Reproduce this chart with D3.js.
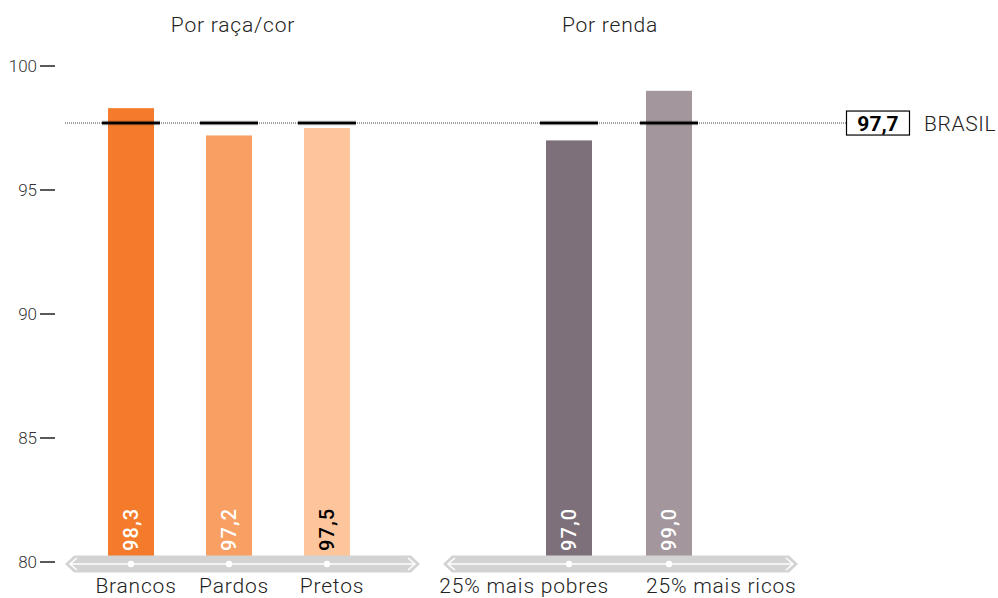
<!DOCTYPE html>
<html>
<head>
<meta charset="utf-8">
<script src="https://cdn.jsdelivr.net/npm/d3@7"></script>
<style>
	body { margin: 0; background: #fff; }
	svg { display: block; font-family: Roboto, "DejaVu Sans", sans-serif; }
</style>
</head>
<body>
<svg id="chart" width="998" height="598"></svg>
<script>
const raceCategories = ["Brancos", "Pardos", "Pretos"];
const raceValues = [98.3, 97.2, 97.5];
const raceColors = ["#f47b2b", "#f8a063", "#fdc59c"];
const raceLabelColors = ["#fff", "#fff", "#000"];

const incomeCategories = ["25% mais pobres", "25% mais ricos"];
const incomeValues = [97.0, 99.0];
const incomeColors = ["#7d707a", "#a3979d"];
const incomeLabelColors = ["#fff", "#fff"];

const brasil = 97.7;
const yTicks = [80, 85, 90, 95, 100];
const groupTitles = ["Por raça/cor", "Por renda"];

const svg = d3.select("#chart");
const y = d3.scaleLinear().domain([80, 100]).range([562, 66]);
const fmt = v => d3.format(".1f")(v).replace(".", ",");

// y axis
const yAxis = svg.append("g").attr("class", "y-axis");
yTicks.forEach(t => {
	yAxis.append("text")
		.attr("x", 37).attr("y", y(t)).attr("dy", "0.35em")
		.attr("text-anchor", "end")
		.attr("font-size", 17).attr("font-weight", 300).attr("fill", "#333")
		.text(t);
	yAxis.append("line")
		.attr("x1", 40).attr("x2", 55)
		.attr("y1", y(t)).attr("y2", y(t))
		.attr("stroke", "#222").attr("stroke-width", 1.5);
});

const groups = [
	{ title: groupTitles[0], cats: raceCategories, vals: raceValues, colors: raceColors, labels: raceLabelColors,
		x: d3.scalePoint().domain(raceCategories).range([131, 327]), band: [65, 420], titleX: 233 },
	{ title: groupTitles[1], cats: incomeCategories, vals: incomeValues, colors: incomeColors, labels: incomeLabelColors,
		x: d3.scalePoint().domain(incomeCategories).range([569, 669]), band: [443, 798], titleX: 610 }
];

const barW = 46;
const markW = 58;

// bars
groups.forEach(g => {
	svg.append("g").selectAll("rect.bar")
		.data(g.cats)
		.join("rect")
		.attr("class", "bar")
		.attr("x", d => g.x(d) - barW / 2)
		.attr("width", barW)
		.attr("y", (d, i) => y(g.vals[i]))
		.attr("height", (d, i) => y(80) - y(g.vals[i]))
		.attr("fill", (d, i) => g.colors[i]);
});

// brasil reference line
svg.append("line")
	.attr("x1", 65).attr("x2", 846)
	.attr("y1", y(brasil)).attr("y2", y(brasil))
	.attr("stroke", "#444").attr("stroke-width", 1)
	.attr("stroke-dasharray", "1,1");

groups.forEach(g => {
	const marks = svg.append("g");
	marks.selectAll("line.halo")
		.data(g.cats)
		.join("line")
		.attr("class", "halo")
		.attr("x1", d => g.x(d) - markW / 2)
		.attr("x2", d => g.x(d) + markW / 2)
		.attr("y1", y(brasil)).attr("y2", y(brasil))
		.attr("stroke", "#000").attr("stroke-opacity", 0.3).attr("stroke-width", 4.5);
	marks.selectAll("line.mark")
		.data(g.cats)
		.join("line")
		.attr("class", "mark")
		.attr("x1", d => g.x(d) - markW / 2)
		.attr("x2", d => g.x(d) + markW / 2)
		.attr("y1", y(brasil)).attr("y2", y(brasil))
		.attr("stroke", "#000").attr("stroke-width", 2.5);
});

svg.append("rect")
	.attr("x", 846.5).attr("y", y(brasil) - 12)
	.attr("width", 63).attr("height", 24)
	.attr("fill", "#fff").attr("stroke", "#000").attr("stroke-width", 1.2);
svg.append("text")
	.attr("x", 878).attr("y", y(brasil)).attr("dy", "0.36em")
	.attr("text-anchor", "middle")
	.attr("font-size", 21).attr("font-weight", 700).attr("fill", "#000")
	.text(fmt(brasil));
svg.append("text")
	.attr("x", 924).attr("y", y(brasil)).attr("dy", "0.36em")
	.attr("font-size", 21).attr("font-weight", 300).attr("fill", "#222")
	.attr("letter-spacing", 0.6)
	.text("BRASIL");

// bottom bands, value labels, category labels, titles
groups.forEach(g => {
	const [b0, b1] = g.band;
	const cy = 564, h = 8.5;
	svg.append("path")
		.attr("d", `M${b0},${cy} L${b0 + 9},${cy - h} L${b1 - 9},${cy - h} L${b1},${cy} L${b1 - 9},${cy + h} L${b0 + 9},${cy + h} Z`)
		.attr("fill", "#d3d3d4");
	svg.append("path")
		.attr("d", `M${b0 + 12},${cy - 6} L${b0 + 5},${cy} L${b0 + 12},${cy + 6} M${b0 + 5},${cy} L${b1 - 5},${cy} M${b1 - 12},${cy - 6} L${b1 - 5},${cy} L${b1 - 12},${cy + 6}`)
		.attr("fill", "none").attr("stroke", "#fff").attr("stroke-width", 1.5);
	svg.append("g").selectAll("circle")
		.data(g.cats)
		.join("circle")
		.attr("cx", d => g.x(d)).attr("cy", cy).attr("r", 3.2)
		.attr("fill", "#fff");

	svg.append("g").selectAll("text")
		.data(g.cats)
		.join("text")
		.attr("transform", d => `translate(${g.x(d) + 7},551) rotate(-90)`)
		.attr("font-size", 20).attr("font-weight", 500)
		.attr("letter-spacing", 1.2)
		.attr("fill", (d, i) => g.labels[i])
		.text((d, i) => fmt(g.vals[i]));

	const n = g.cats.length;
	svg.append("g").selectAll("text")
		.data(g.cats)
		.join("text")
		.attr("x", (d, i) => n === 2 ? (i === 0 ? g.x(d) + 40 : g.x(d) - 23) : g.x(d) + 5)
		.attr("y", 593)
		.attr("text-anchor", (d, i) => n === 2 ? (i === 0 ? "end" : "start") : "middle")
		.attr("font-size", 21).attr("font-weight", 300).attr("fill", "#222")
		.attr("letter-spacing", 0.8)
		.text(d => d);

	svg.append("text")
		.attr("x", g.titleX)
		.attr("y", 32)
		.attr("text-anchor", "middle")
		.attr("font-size", 21).attr("font-weight", 300).attr("fill", "#222")
		.attr("letter-spacing", 0.8)
		.text(g.title);
});
</script>
</body>
</html>
